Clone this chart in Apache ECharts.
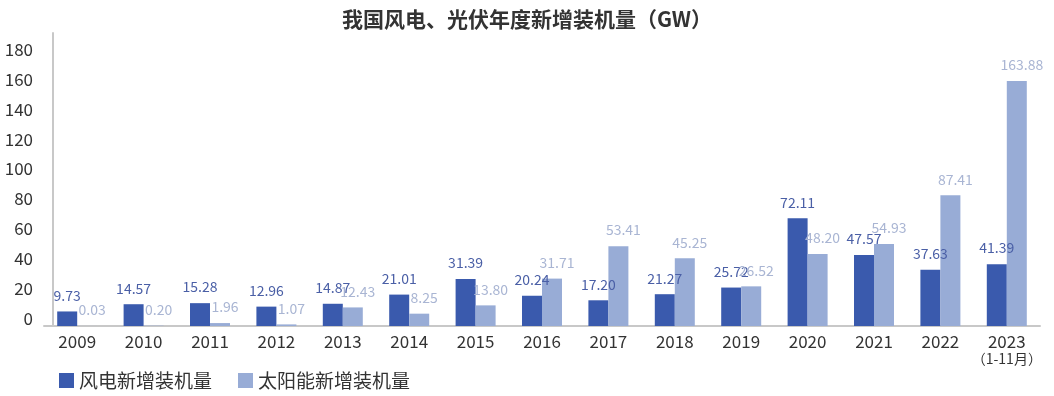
<!DOCTYPE html>
<html><head><meta charset="utf-8">
<script src="https://cdn.jsdelivr.net/npm/echarts@6/dist/echarts.min.js"></script>
<style>html,body{margin:0;padding:0;background:#fff}#c{width:1054px;height:396px}</style>
</head><body><div id="c"></div>
<script>
const categories = ['2009','2010','2011','2012','2013','2014','2015','2016','2017','2018','2019','2020','2021','2022','2023'];
const windValues = [9.73,14.57,15.28,12.96,14.87,21.01,31.39,20.24,17.20,21.27,25.72,72.11,47.57,37.63,41.39];
const solarValues = [0.03,0.20,1.96,1.07,12.43,8.25,13.80,31.71,53.41,45.25,26.52,48.20,54.93,87.41,163.88];
const yTicks = [0,20,40,60,80,100,120,140,160,180];
const seriesNames = ['风电新增装机量','太阳能新增装机量'];

const chart = echarts.init(document.getElementById('c'), null, {renderer:'canvas'});
const font = '"Noto Sans CJK SC","Noto Sans",sans-serif';
chart.setOption({
  animation:false,
  textStyle:{fontFamily:font},
  title:{text:'我国风电、光伏年度新增装机量（GW）',left:'center',top:4,
    textStyle:{fontSize:21,fontWeight:'bold',color:'#333',fontFamily:font}},
  legend:{data:seriesNames,left:54,bottom:1,itemWidth:15,itemHeight:15,itemGap:26,icon:'rect',
    textStyle:{fontSize:19,color:'#333',fontFamily:font}},
  grid:{left:44,right:14,top:33,bottom:70},
  xAxis:{type:'category',data:categories,
    axisLine:{lineStyle:{color:'#c8c8c8',width:2}},axisTick:{show:false},
    axisLabel:{fontSize:17,color:'#333',margin:7,interval:0,
      formatter:function(v){return v==='2023'?v+'\n{s|（1-11月）}':v;},
      rich:{s:{fontSize:14,color:'#333',lineHeight:18}}}},
  yAxis:{type:'value',min:0,max:196,interval:20,offset:-9,
    axisLine:{show:true,onZero:false,lineStyle:{color:'#c8c8c8',width:2}},axisTick:{show:false},
    splitLine:{show:false},
    axisLabel:{fontSize:17,color:'#333',margin:20,showMaxLabel:false,verticalAlign:'bottom',lineHeight:15,
      formatter:function(v){return yTicks.indexOf(v)>=0?String(v):'';}}},
  series:[
    {name:seriesNames[0],type:'bar',data:windValues,barWidth:20,barGap:'0%',
      itemStyle:{color:'#3a5aad'},
      label:{show:true,position:'top',distance:9,fontSize:14,color:'#4a5fa6',
        formatter:function(p){return p.value.toFixed(2);}}},
    {name:seriesNames[1],type:'bar',data:solarValues,barWidth:20,
      itemStyle:{color:'#98acd6'},
      label:{show:true,position:'top',distance:9,fontSize:14,color:'#a9b5d3',offset:[5,0],
        formatter:function(p){return p.value.toFixed(2);}}}
  ]
});
</script></body></html>
